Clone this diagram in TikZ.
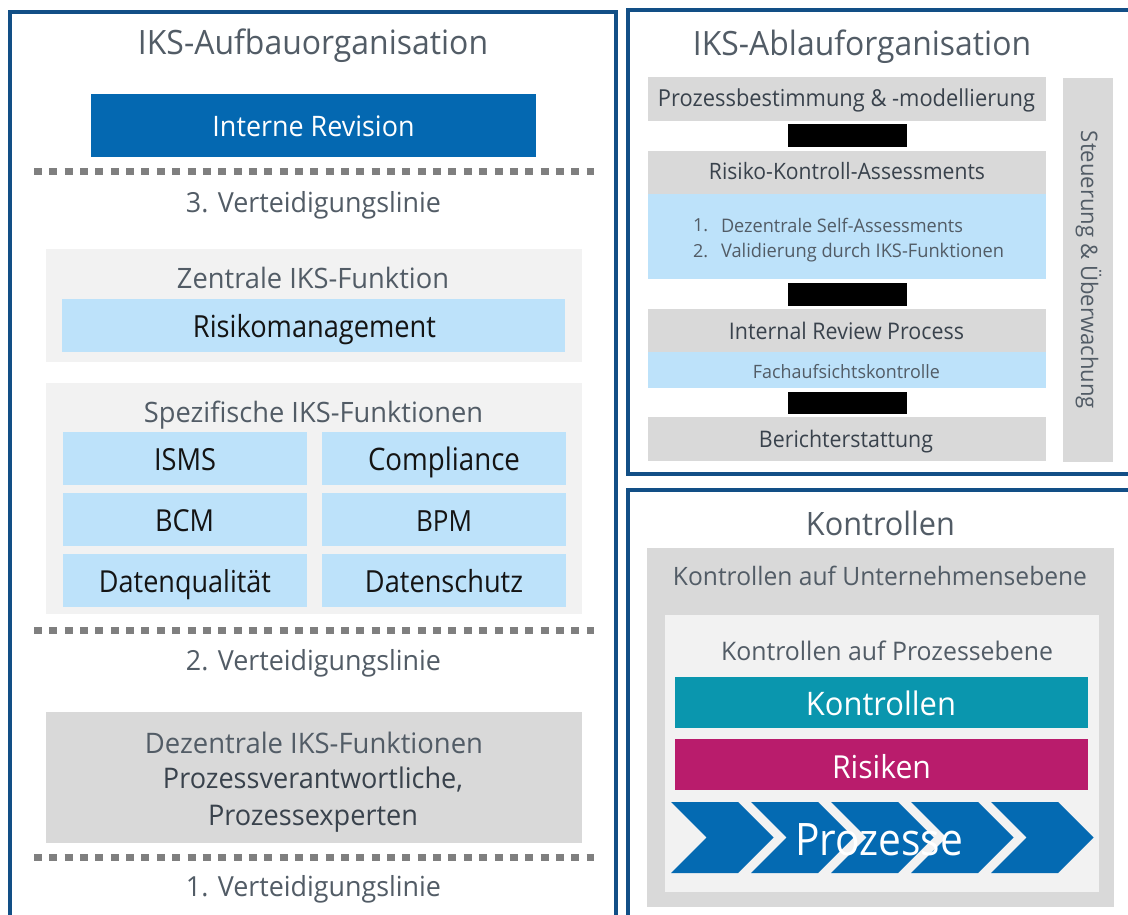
\documentclass[tikz,border=0pt]{standalone}
\usepackage{fontspec}
\setmainfont{Open Sans}
\usepackage{graphicx}
\definecolor{panelblue}{HTML}{124F86}
\definecolor{irblue}{HTML}{0468B1}
\definecolor{lblue}{HTML}{BDE2FA}
\definecolor{lgray}{HTML}{F2F2F2}
\definecolor{mgray}{HTML}{D9D9D9}
\definecolor{dotgray}{HTML}{7F7F7F}
\definecolor{ttgray}{HTML}{525C66}
\definecolor{dkgray}{HTML}{39424C}
\definecolor{teal}{HTML}{0A96AE}
\definecolor{magenta}{HTML}{B91C6C}
\definecolor{chev}{HTML}{046AB2}
\newcommand\fw[3][1.03]{\scalebox{1}[#1]{\resizebox{#2pt}{!}{#3}}}
\tikzset{
  panel/.style={draw=panelblue, line width=4pt},
  txt/.style={anchor=base, inner sep=0pt, outer sep=0pt, text=ttgray},
  dark/.style={txt, text=dkgray},
  blk/.style={txt, text=black!92},
  wht/.style={txt, text=white},
  dotline/.style={draw=dotgray, line width=7pt, dash pattern=on 8pt off 7.35pt},
  bar/.style={fill=black},
}
\begin{document}
\begin{tikzpicture}[x=1pt,y=-1pt]
\useasboundingbox (0,0) rectangle (1128,915);
\fill[white] (0,0) rectangle (1128,915);
% panels
\draw[panel] (10,12) rectangle (616,940);
\draw[panel] (627.5,10.5) rectangle (1140,474);
\draw[panel] (627.5,489.5) rectangle (1140,940);

% ---------------- left panel
\node[txt] (tAuf) at (313,55) {\fw[1.05]{350}{IKS-Aufbauorganisation}};
\fill[irblue] (91,94) rectangle (536,157);
\node[wht] (ir) at (313.5,137) {\fw[1.05]{202}{Interne Revision}};
\draw[dotline] (34,172) -- (594,172);
\node[txt] (v3) at (313.5,212) {\fw{255}{3. Verteidigungslinie}};

\fill[lgray] (45.5,248.5) rectangle (582,362);
\node[txt] (zent) at (313,288) {\fw{272}{Zentrale IKS-Funktion}};
\fill[lblue] (62,299) rectangle (565,352);
\node[blk] (risk) at (314.5,337) {\fw[1.12]{243}{Risikomanagement}};

\fill[lgray] (45.5,383) rectangle (582,614);
\node[txt] (spez) at (313.5,422) {\fw{339}{Spezifische IKS-Funktionen}};
\foreach \ya/\yb in {432/485, 493/546, 554/607}{
  \fill[lblue] (63,\ya) rectangle (307,\yb);
  \fill[lblue] (322,\ya) rectangle (566,\yb);
}
\node[blk] (isms) at (185,470) {\fw[1.12]{62}{ISMS}};
\node[blk] (comp) at (444,470) {\fw[1.12]{152}{Compliance}};
\node[blk] (bcm) at (184.5,531) {\fw[1.12]{59}{BCM}};
\node[blk] (bpm) at (444,531) {\fw[1.12]{56}{BPM}};
\node[blk] (dq) at (185,592) {\fw[1.12]{172}{Datenqualität}};
\node[blk] (ds) at (444,592) {\fw[1.12]{158}{Datenschutz}};

\draw[dotline] (34,630) -- (594,630);
\node[txt] (v2) at (313.5,670) {\fw{255}{2. Verteidigungslinie}};

\fill[mgray] (45.5,712) rectangle (582,843);
\node[txt] (dez) at (314,753) {\fw{338}{Dezentrale IKS-Funktionen}};
\node[dark] (pv) at (313,788) {\fw[1.05]{300}{Prozessverantwortliche,}};
\node[dark] (pe) at (313,825) {\fw[1.05]{210}{Prozessexperten}};

\draw[dotline] (34,857) -- (594,857);
\node[txt] (v1) at (313.5,896) {\fw{255}{1. Verteidigungslinie}};

% ---------------- right top panel
\node[txt] (tAbl) at (862,56) {\fw[1.05]{338}{IKS-Ablauforganisation}};
\fill[mgray] (648,77) rectangle (1046,121);
\node[dark] (pb) at (846.5,107) {\fw[1.07]{377}{Prozessbestimmung \& -modellierung}};
\fill[bar] (788,124) rectangle (907,147);
\fill[mgray] (648,151) rectangle (1046,194);
\node[dark] (rka) at (847,180) {\fw[1.07]{276}{Risiko-Kontroll-Assessments}};
\fill[lblue] (648,194) rectangle (1046,279);
\node[txt, anchor=base west] (n1) at (693,232) {\fontsize{18}{20}\selectfont 1.};
\node[txt, anchor=base west] (l1) at (721,232) {\fw{242}{Dezentrale Self-Assessments}};
\node[txt, anchor=base west] (n2) at (693,257) {\fontsize{18}{20}\selectfont 2.};
\node[txt, anchor=base west] (l2) at (721,257) {\fw{283}{Validierung durch IKS-Funktionen}};
\fill[bar] (788,283) rectangle (907,306);
\fill[mgray] (648,309) rectangle (1046,352);
\node[dark] (irp) at (846.5,339) {\fw[1.07]{235}{Internal Review Process}};
\fill[lblue] (648,352) rectangle (1046,388);
\node[txt] (fak) at (846.5,378) {\fw{187}{Fachaufsichtskontrolle}};
\fill[bar] (788,392) rectangle (907,414);
\fill[mgray] (648,417) rectangle (1046,461);
\node[dark] (ber) at (846,447) {\fw[1.07]{174}{Berichterstattung}};
\fill[mgray] (1063,78) rectangle (1113,462);
\node[txt, rotate=-90] (stu) at (1081,270) {\fw{278}{Steuerung \& Überwachung}};

% ---------------- right bottom panel
\node[txt] (tKon) at (880.5,535) {\fw[1.05]{149}{Kontrollen}};
\fill[mgray] (647,548) rectangle (1114,907);
\node[txt] (kue) at (880,585) {\fw{414}{Kontrollen auf Unternehmensebene}};
\fill[lgray] (665,615) rectangle (1099,892);
\node[txt] (kpe) at (887,660) {\fw{332}{Kontrollen auf Prozessebene}};
\fill[teal] (675,677) rectangle (1088,728);
\node[wht] (kk) at (881,715) {\fw[1.05]{150}{Kontrollen}};
\fill[magenta] (675,739) rectangle (1088,790);
\node[wht] (rr) at (881.5,778) {\fw[1.05]{99}{Risiken}};
\foreach \x in {671,751,831,911,991}{
  \fill[chev] (\x,802) -- (\x+67,802) -- (\x+102.5,837.5) -- (\x+67,873) -- (\x,873) -- (\x+35.5,837.5) -- cycle;
}
\node[wht] (pz) at (879,855) {\fw[1.1]{168}{Prozesse}};
\end{tikzpicture}
\end{document}
